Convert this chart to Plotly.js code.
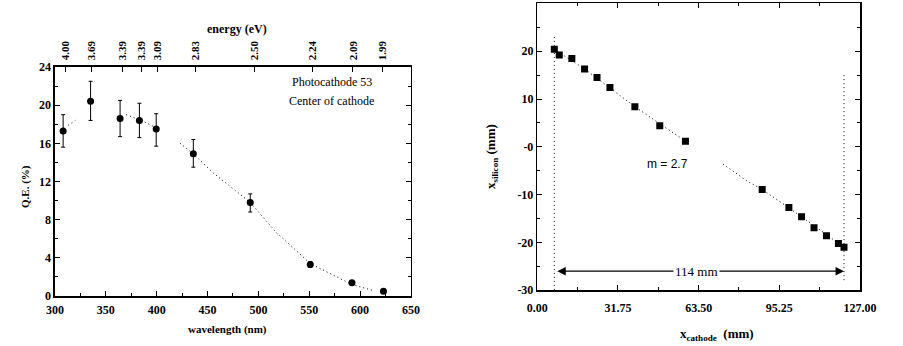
<!DOCTYPE html>
<html><head><meta charset="utf-8">
<script src="https://cdn.plot.ly/plotly-3.0.1.min.js"></script>
<style>body{margin:0;background:#fff}#c{width:903px;height:346px}</style>
</head><body><div id="c"></div>
<script>
// Left panel: quantum efficiency vs wavelength
const wavelength = [308, 335, 364, 383, 399.5, 436, 492, 551, 592, 623];
const qe = [17.3, 20.4, 18.6, 18.4, 17.5, 14.9, 9.8, 3.3, 1.4, 0.5];
const qeErrPlus = [1.7, 2.1, 1.9, 1.8, 1.6, 1.5, 0.9, 0.3, 0.1, 0.1];
const qeErrMinus = [1.7, 2.0, 1.9, 1.8, 1.8, 1.4, 1.0, 0.3, 0.1, 0.1];
const qeFitWl = [313, 320, null, 370, 385, 400, null, 423, 436, 455.6, 492, 518, 524.5, 551, 592, 612];
const qeFitVal = [17.9, 18.4, null, 19.0, 18.4, 17.6, null, 16.0, 14.9, 12.9, 9.8, 6.6, 6.0, 3.4, 1.2, 0.6];
const energyTickWl = [310, 336, 366, 385, 401, 438, 496, 553, 593, 622];
const energyTickText = ['4.00', '3.69', '3.39', '3.39', '3.09', '2.83', '2.50', '2.24', '2.09', '1.99'];
const wlTicks = [300, 350, 400, 450, 500, 550, 600, 650];
const qeTicks = [0, 4, 8, 12, 16, 20, 24];

// Right panel: x_silicon vs x_cathode
const xCathode = [6.7, 8.65, 13.6, 18.6, 23.5, 28.6, 38.4, 48.2, 58.3, 88.5, 99.0, 104.0, 108.9, 113.8, 118.5, 120.7];
const xSilicon = [20.4, 19.2, 18.5, 16.3, 14.5, 12.4, 8.4, 4.4, 1.2, -8.9, -12.7, -14.6, -16.9, -18.6, -20.2, -21.0];
const fitCathode = [6.7, 18.6, 38.4, 58.3, null, 73.1, 82.7, 88.5, 104.0, 120.7];
const fitSilicon = [20.4, 16.3, 8.4, 1.2, null, -3.6, -7.2, -8.9, -14.6, -21.0];
const guideLeftX = [6.7, 6.7];
const guideLeftY = [23, -30];
const guideRightX = [120.7, 120.7];
const guideRightY = [15, -28];
const cathodeTicks = [0, 31.75, 63.5, 95.25, 127];
const cathodeTickText = ['0.00', '31.75', '63.50', '95.25', '127.00'];
const siliconTicks = [30, 20, 10, 0, -10, -20, -30];
const siliconTickText = ['30', '20', '10', '-0', '-10', '-20', '-30'];

const F = 'Liberation Serif';
const tickFont = {family: F, size: 12, color: '#000', weight: 'bold'};
const DOT = '1px,3px';

const traces = [
  {x: qeFitWl, y: qeFitVal, xaxis: 'x', yaxis: 'y', mode: 'lines', connectgaps: false,
   line: {color: '#000', width: 1, dash: DOT}, hoverinfo: 'skip'},
  {x: wavelength, y: qe, xaxis: 'x', yaxis: 'y', mode: 'markers',
   marker: {color: '#000', size: 7, symbol: 'circle'},
   error_y: {type: 'data', symmetric: false, array: qeErrPlus, arrayminus: qeErrMinus,
             color: '#000', thickness: 1, width: 2}},
  {x: wavelength, y: qe, xaxis: 'x3', yaxis: 'y', mode: 'markers', marker: {opacity: 0}, hoverinfo: 'skip'},
  {x: fitCathode, y: fitSilicon, xaxis: 'x2', yaxis: 'y2', mode: 'lines', connectgaps: false,
   line: {color: '#000', width: 1, dash: DOT}, hoverinfo: 'skip'},
  {x: guideLeftX, y: guideLeftY, xaxis: 'x2', yaxis: 'y2', mode: 'lines',
   line: {color: '#000', width: 1, dash: DOT}, hoverinfo: 'skip'},
  {x: guideRightX, y: guideRightY, xaxis: 'x2', yaxis: 'y2', mode: 'lines',
   line: {color: '#000', width: 1, dash: DOT}, hoverinfo: 'skip'},
  {x: xCathode, y: xSilicon, xaxis: 'x2', yaxis: 'y2', mode: 'markers',
   marker: {color: '#000', size: 7, symbol: 'square'}}
];

const axBase = {showgrid: false, zeroline: false, linecolor: '#000', linewidth: 1.5,
  ticks: 'inside', ticklen: 5, tickcolor: '#000', tickwidth: 1, tickfont: tickFont, mirror: 'ticks'};

function lbl(x, y, text, size, extra) {
  return Object.assign({xref: 'paper', yref: 'paper', x: x / 903, y: 1 - y / 346, text: text,
    showarrow: false, xanchor: 'center', yanchor: 'middle',
    font: {family: F, size: size, color: '#000', weight: 'bold'}}, extra || {});
}

const layout = {
  width: 903, height: 346, showlegend: false,
  paper_bgcolor: '#fff', plot_bgcolor: '#fff',
  margin: {l: 0, r: 0, t: 0, b: 0},
  font: {family: F, color: '#000'},
  xaxis: Object.assign({}, axBase, {domain: [0.0609, 0.4551], range: [300, 650],
    tickmode: 'array', tickvals: wlTicks, mirror: false, ticklabelstandoff: 2,
    minor: {ticks: 'inside', ticklen: 3, dtick: 25, tickcolor: '#000'}, anchor: 'y'}),
  xaxis3: {overlaying: 'x', side: 'top', range: [300, 650], anchor: 'y',
    showgrid: false, zeroline: false, showline: true, linecolor: '#000', linewidth: 1.5,
    ticks: 'inside', ticklen: 5, tickcolor: '#000', tickmode: 'array',
    tickvals: energyTickWl, ticktext: energyTickText, tickangle: -90, ticklabelstandoff: 3,
    tickfont: {family: F, size: 11, color: '#000', weight: 'bold'}},
  yaxis: Object.assign({}, axBase, {domain: [0.1445, 0.8064], range: [0, 24],
    tickmode: 'array', tickvals: qeTicks,
    minor: {ticks: 'inside', ticklen: 3, dtick: 2, tickcolor: '#000'}, anchor: 'x'}),
  xaxis2: Object.assign({}, axBase, {domain: [0.595, 0.9524], range: [0, 127],
    tickmode: 'array', tickvals: cathodeTicks, ticktext: cathodeTickText, ticklabelstandoff: 6,
    minor: {ticks: 'inside', ticklen: 3, tickvals: [15.875, 47.625, 79.375, 111.125], tickcolor: '#000'},
    anchor: 'y2'}),
  yaxis2: Object.assign({}, axBase, {domain: [0.161, 0.990], range: [-30, 30],
    tickmode: 'array', tickvals: siliconTicks, ticktext: siliconTickText,
    minor: {ticks: 'inside', ticklen: 3, dtick: 5, tickcolor: '#000'}, anchor: 'x2'}),
  annotations: [
    lbl(237, 29, 'energy (eV)', 12),
    lbl(227, 329, 'wavelength (nm)', 11),
    lbl(25, 187, 'Q.E. (%)', 11, {textangle: -90}),
    {xref: 'x', yref: 'y', x: 572, y: 22.4, text: 'Photocathode 53', showarrow: false,
     xanchor: 'center', yanchor: 'middle', font: {family: F, size: 12, color: '#000'}},
    {xref: 'x', yref: 'y', x: 572, y: 20.4, text: 'Center of cathode', showarrow: false,
     xanchor: 'center', yanchor: 'middle', font: {family: F, size: 12, color: '#000'}},
    {xref: 'x2', yref: 'y2', x: 51.3, y: -3.6, text: 'm = 2.7', showarrow: false,
     xanchor: 'center', yanchor: 'middle', font: {family: 'Liberation Sans', size: 12, color: '#000'}},
    {xref: 'x2', yref: 'y2', x: 120.7, y: -26, ax: 6.7, ay: -26, axref: 'x2', ayref: 'y2',
     text: ' ', showarrow: true, arrowhead: 2, startarrowhead: 2, arrowside: 'end+start',
     arrowsize: 1.3, startarrowsize: 1.3, arrowwidth: 1.3, arrowcolor: '#000'},
    {xref: 'x2', yref: 'y2', x: 62.7, y: -26, text: '114 mm', showarrow: false, bgcolor: '#fff',
     xanchor: 'center', yanchor: 'middle', font: {family: F, size: 13, color: '#000'}},
    lbl(717, 334, 'x<sub>cathode</sub>  (mm)', 13),
    lbl(491, 157, 'x<sub>silicon</sub> (mm)', 13, {textangle: -90})
  ]
};

Plotly.newPlot('c', traces, layout, {staticPlot: true, displayModeBar: false});
</script>
</body></html>
